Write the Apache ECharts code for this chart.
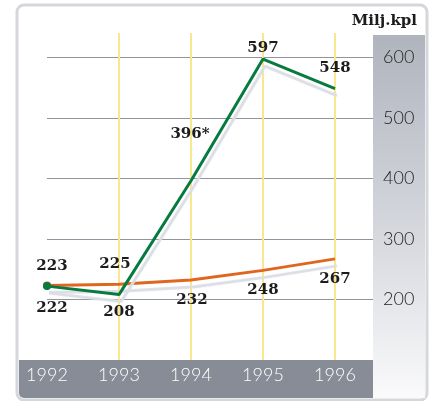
<!DOCTYPE html>
<html>
<head>
<meta charset="utf-8">
<script src="https://cdn.jsdelivr.net/npm/echarts@6/dist/echarts.min.js"></script>
<style>
  html, body { margin: 0; padding: 0; background: #fff; }
  #chart { width: 432px; height: 401px; }
</style>
</head>
<body>
<div id="chart"></div>
<script>
// data
var years = [1992, 1993, 1994, 1995, 1996];
var greenValues = [222, 208, 396, 597, 548];
var greenNotes = ["", "", "*", "", ""];
var orangeValues = [223, 225, 232, 248, 267];
var yTicks = [200, 300, 400, 500, 600];
var unitText = "Milj.kpl";

// label placement (px from the point)
var greenOffsets = [[5, 22], [0, 18], [-1, -47], [0, -11], [0, -21]];
var orangeOffsets = [[5, -19], [-4, -20], [1, 20], [0, 20], [0, 20]];

var labelFont = {
  fontFamily: "DejaVu Serif",
  fontWeight: "bold",
  fontSize: 15,
  color: "#1c1c1c"
};

function buildData(values, offsets, notes) {
  return years.map(function(y, i) {
    return {
      value: [y, values[i]],
      label: {
        show: true,
        position: "inside",
        offset: offsets[i],
        formatter: values[i] + (notes ? notes[i] : "")
      }
    };
  });
}

function lineSeries(name, color, data) {
  return {
    name: name,
    type: "line",
    data: data,
    symbol: "circle",
    symbolSize: function(v, p) {
      return p.dataIndex === 0 ? 8 : 0;
    },
    itemStyle: { color: color },
    lineStyle: {
      color: color,
      width: 3,
      shadowColor: "#dcdee5",
      shadowBlur: 1,
      shadowOffsetX: 2,
      shadowOffsetY: 7
    },
    label: labelFont,
    emphasis: { disabled: true },
    animation: false
  };
}

var chart = echarts.init(document.getElementById("chart"));
chart.setOption({
  animation: false,
  grid: { left: 47, right: 59, top: 33, bottom: 41 },
  graphic: [
    {
      type: "rect",
      z: -10,
      shape: { x: 17, y: 5, width: 410, height: 395, r: 7 },
      style: { fill: "#fff", stroke: "#d5d7dc", lineWidth: 3 }
    },
    {
      type: "rect",
      z: -9,
      shape: { x: 373, y: 35, width: 52, height: 363 },
      style: {
        fill: new echarts.graphic.LinearGradient(0, 0, 0, 1, [
          { offset: 0, color: "#b0b4bd" },
          { offset: 0.55, color: "#d6d8de" },
          { offset: 1, color: "#fafafb" }
        ])
      }
    },
    {
      type: "rect",
      z: -9,
      shape: { x: 19, y: 360, width: 354, height: 38, r: [0, 0, 0, 5] },
      style: { fill: "#878c96" }
    },
    {
      type: "text",
      right: 15,
      top: 14,
      style: {
        text: unitText,
        font: "bold 15px 'DejaVu Serif'",
        fill: "#1c1c1c"
      }
    }
  ],
  xAxis: {
    type: "value",
    min: 1992,
    max: 1996.5278,
    interval: 1,
    axisLine: { show: false },
    axisTick: { show: false },
    axisLabel: {
      color: "#ffffff",
      fontFamily: "Lato",
      fontWeight: 300,
      fontSize: 18,
      margin: 6,
      showMaxLabel: false,
      formatter: function(v) {
        return years.indexOf(v) >= 0 ? String(v) : "";
      }
    },
    splitLine: {
      show: true,
      showMinLine: false,
      showMaxLine: false,
      lineStyle: { color: "#fae78d", width: 2 }
    }
  },
  yAxis: {
    type: "value",
    position: "right",
    min: 100,
    max: 640,
    interval: 100,
    axisLine: { show: false },
    axisTick: { show: false },
    axisLabel: {
      color: "#222",
      fontFamily: "Lato",
      fontWeight: 300,
      fontSize: 18,
      margin: 10,
      formatter: function(v) {
        return yTicks.indexOf(v) >= 0 ? String(v) : "";
      }
    },
    splitLine: {
      show: true,
      showMinLine: false,
      showMaxLine: false,
      lineStyle: { color: "#8f949d", width: 1 }
    }
  },
  series: [
    lineSeries("orange", "#e0661f", buildData(orangeValues, orangeOffsets)),
    lineSeries("green", "#077a3f", buildData(greenValues, greenOffsets, greenNotes))
  ]
});
</script>
</body>
</html>
